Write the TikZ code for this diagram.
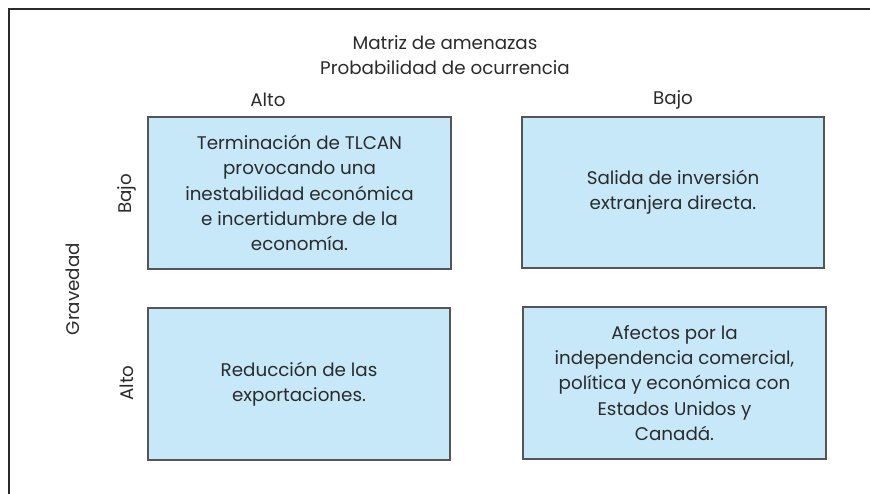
\documentclass[tikz,border=0pt]{standalone}
\usepackage{fontspec}
\setmainfont{Poppins}
\definecolor{boxfill}{HTML}{C6E8F8}
\definecolor{boxline}{HTML}{555555}
\definecolor{txt}{HTML}{2B2B2B}
\begin{document}
\begin{tikzpicture}[x=1pt,y=-1pt,
  cell/.style={draw=boxline,line width=2pt,fill=boxfill,text=txt,align=center,inner sep=0pt,font=\fontsize{18.3}{25.3}\selectfont},
  lbl/.style={text=txt,inner sep=0pt,font=\fontsize{18.3}{25}\selectfont}]
\useasboundingbox (0,0) rectangle (870,494);
\fill[white] (0,0) rectangle (870,494);
\draw[line width=2pt,draw=txt] (9,494) -- (9,9.5) -- (870,9.5);
\node[lbl,align=center] (title) at (445,55) {Matriz de amenazas\\Probabilidad de ocurrencia};
\node[lbl] (hA) at (268,100) {Alto};
\node[lbl] (hB) at (673,100) {Bajo};
\node[lbl,rotate=90] (vB) at (127,194) {Bajo};
\node[lbl,rotate=90] (vA) at (127,383) {Alto};
\node[lbl,rotate=90] (grav) at (73,289) {Gravedad};
\node[cell,minimum width=303pt,minimum height=152pt] (c1) at (299.5,193) {Terminación de TLCAN\\provocando una\\inestabilidad económica\\e incertidumbre de la\\economía.};
\node[cell,minimum width=302pt,minimum height=151pt] (c2) at (673,192.5) {Salida de inversión\\extranjera directa.};
\node[cell,minimum width=302pt,minimum height=152pt] (c3) at (299,384) {Reducción de las\\exportaciones.};
\node[cell,minimum width=303pt,minimum height=152pt] (c4) at (674.5,383) {Afectos por la\\independencia comercial,\\política y económica con\\Estados Unidos y\\Canadá.};
\end{tikzpicture}
\end{document}
